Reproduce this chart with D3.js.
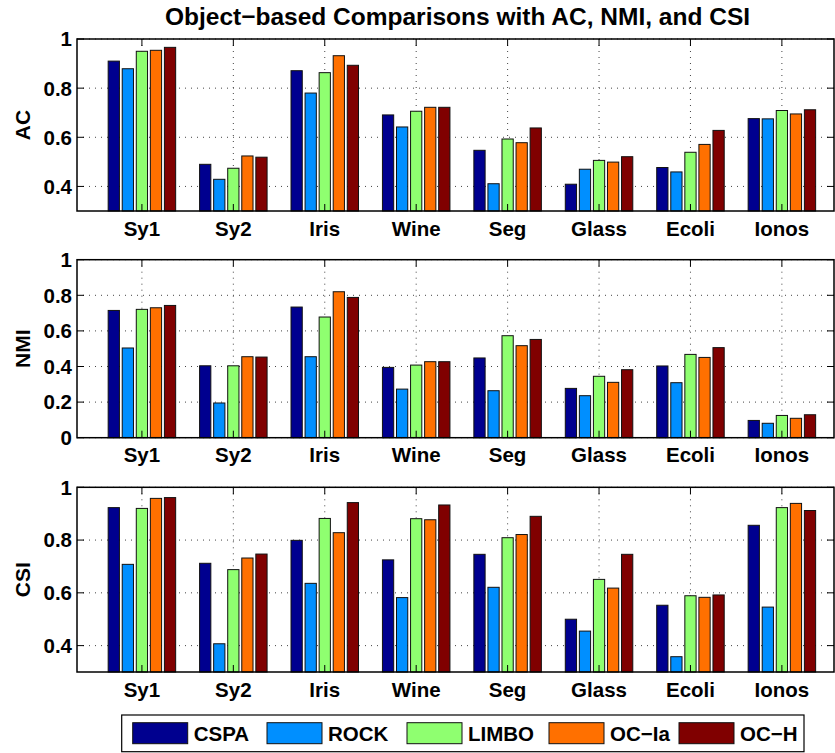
<!DOCTYPE html>
<html>
<head>
<meta charset="utf-8">
<script src="https://cdnjs.cloudflare.com/ajax/libs/d3/7.8.5/d3.min.js"></script>
<style>
	body { margin: 0; background: #fff; }
	svg { display: block; font-family: "Liberation Sans", Arial, Helvetica, sans-serif; font-weight: bold; }
</style>
</head>
<body>
<div id="chart"></div>
<script>
//Data
var categories = ["Sy1", "Sy2", "Iris", "Wine", "Seg", "Glass", "Ecoli", "Ionos"];
var methods = ["CSPA", "ROCK", "LIMBO", "OC\u2212Ia", "OC\u2212H"];
var methodColors = ["#00008f", "#008fff", "#8fff70", "#ff7000", "#800000"];

//One row per dataset, one value per method
var acValues = [
	[0.910, 0.879, 0.950, 0.954, 0.966],
	[0.490, 0.429, 0.474, 0.524, 0.519],
	[0.871, 0.780, 0.863, 0.932, 0.893],
	[0.691, 0.642, 0.706, 0.722, 0.722],
	[0.547, 0.411, 0.593, 0.578, 0.638],
	[0.409, 0.470, 0.506, 0.499, 0.521],
	[0.477, 0.459, 0.539, 0.571, 0.628],
	[0.676, 0.675, 0.709, 0.695, 0.712]
];
var nmiValues = [
	[0.715, 0.504, 0.721, 0.730, 0.743],
	[0.404, 0.195, 0.404, 0.455, 0.453],
	[0.734, 0.455, 0.678, 0.820, 0.788],
	[0.395, 0.273, 0.408, 0.427, 0.427],
	[0.448, 0.264, 0.573, 0.517, 0.552],
	[0.277, 0.236, 0.345, 0.311, 0.382],
	[0.403, 0.309, 0.468, 0.451, 0.506],
	[0.097, 0.081, 0.125, 0.109, 0.129]
];
var csiValues = [
	[0.923, 0.708, 0.920, 0.958, 0.961],
	[0.712, 0.407, 0.688, 0.732, 0.747],
	[0.799, 0.636, 0.882, 0.828, 0.942],
	[0.725, 0.582, 0.881, 0.877, 0.933],
	[0.746, 0.621, 0.809, 0.821, 0.890],
	[0.500, 0.455, 0.651, 0.618, 0.746],
	[0.553, 0.358, 0.589, 0.583, 0.592],
	[0.856, 0.546, 0.923, 0.939, 0.912]
];

var acTicks = [0.4, 0.6, 0.8, 1];
var nmiTicks = [0, 0.2, 0.4, 0.6, 0.8, 1];
var csiTicks = [0.4, 0.6, 0.8, 1];
var acDomain = [0.3, 1];
var nmiDomain = [0, 1];
var csiDomain = [0.3, 1];

var chartTitle = "Object\u2212based Comparisons with AC, NMI, and CSI";

//Size of the page
var width = 835, height = 753;
var left = 77, right = 834;

var svg = d3.select("#chart")
	.append("svg")
	.attr("width", width)
	.attr("height", height);

//Shared x scale, categories sit at 1..8 like matlab bar()
var x = d3.scaleLinear()
	.domain([0.29, 8.57])
	.range([left, right]);

//Position of each bar inside the group (in x units)
var groupWidth = 0.769;
var xSub = d3.scaleBand()
	.domain(methods)
	.range([-groupWidth / 2, groupWidth / 2])
	.paddingInner(0.2)
	.paddingOuter(0.1);

var fmt = function(d){ return (d === 0 || d === 1) ? String(d) : d3.format(".1f")(d); };

//Draws one of the three panels
function drawPanel(label, values, domain, ticks, top, bottom)
{
	var g = svg.append("g");

	var y = d3.scaleLinear()
		.domain(domain)
		.range([bottom, top]);

	//Dotted grid
	g.selectAll(".hgrid")
		.data(ticks)
		.enter()
		.append("line")
		.attr("x1", left)
		.attr("x2", right)
		.attr("y1", function(d){ return y(d) })
		.attr("y2", function(d){ return y(d) })
		.attr("stroke", "#444")
		.attr("stroke-width", 1)
		.attr("stroke-dasharray", "1,5");

	g.selectAll(".vgrid")
		.data(categories)
		.enter()
		.append("line")
		.attr("x1", function(d, i){ return x(i + 1) })
		.attr("x2", function(d, i){ return x(i + 1) })
		.attr("y1", top)
		.attr("y2", bottom)
		.attr("stroke", "#444")
		.attr("stroke-width", 1)
		.attr("stroke-dasharray", "1,5");

	//Bars
	var groups = g.selectAll(".group")
		.data(values)
		.enter()
		.append("g");

	groups.selectAll("rect")
		.data(function(d, i){ return d.map(function(v, j){ return {cat: i + 1, method: methods[j], value: v, color: methodColors[j]}; }); })
		.enter()
		.append("rect")
		.attr("x", function(d){ return x(d.cat + xSub(d.method)) })
		.attr("width", function(d){ return x(d.cat + xSub(d.method) + xSub.bandwidth()) - x(d.cat + xSub(d.method)) })
		.attr("y", function(d){ return y(d.value) })
		.attr("height", function(d){ return bottom - y(d.value) })
		.attr("fill", function(d){ return d.color })
		.attr("stroke", "#111")
		.attr("stroke-width", 1);

	//Tick marks inside the box
	var tickLen = 7;
	g.selectAll(".ytickL")
		.data(ticks)
		.enter()
		.append("path")
		.attr("d", function(d){ return "M" + left + "," + y(d) + "h" + tickLen + "M" + right + "," + y(d) + "h" + (-tickLen); })
		.attr("stroke", "#000");

	g.selectAll(".xtick")
		.data(categories)
		.enter()
		.append("path")
		.attr("d", function(d, i){ return "M" + x(i + 1) + "," + top + "v" + tickLen + "M" + x(i + 1) + "," + bottom + "v" + (-tickLen); })
		.attr("stroke", "#000");

	//Box around the axes
	g.append("rect")
		.attr("x", left)
		.attr("y", top)
		.attr("width", right - left)
		.attr("height", bottom - top)
		.attr("fill", "none")
		.attr("stroke", "#000")
		.attr("stroke-width", 1.5);

	//Tick labels
	g.selectAll(".ylab")
		.data(ticks)
		.enter()
		.append("text")
		.attr("x", left - 5)
		.attr("y", function(d){ return y(d) })
		.attr("dy", "0.36em")
		.style("text-anchor", "end")
		.style("font-size", "20.5px")
		.text(fmt);

	g.selectAll(".xlab")
		.data(categories)
		.enter()
		.append("text")
		.attr("x", function(d, i){ return x(i + 1) })
		.attr("y", bottom + 24.5)
		.style("text-anchor", "middle")
		.style("font-size", "20.5px")
		.text(function(d){ return d });

	//Axis label
	g.append("text")
		.attr("transform", "translate(30," + ((top + bottom) / 2) + ") rotate(-90)")
		.style("text-anchor", "middle")
		.style("font-size", "21px")
		.text(label);
}

drawPanel("AC", acValues, acDomain, acTicks, 39, 211);
drawPanel("NMI", nmiValues, nmiDomain, nmiTicks, 259.7, 437.7);
drawPanel("CSI", csiValues, csiDomain, csiTicks, 487.3, 672);

//Title
svg.append("text")
	.attr("x", (left + right) / 2 + 2)
	.attr("y", 25)
	.style("text-anchor", "middle")
	.style("font-size", "24.5px")
	.text(chartTitle);

//Legend
var legendX = 121.7, legendY = 715;
var legendSlots = [132.7, 267, 407, 549, 679];
var legend = svg.append("g");

legend.append("rect")
	.attr("x", legendX)
	.attr("y", legendY)
	.attr("width", 804 - legendX)
	.attr("height", 36.7)
	.attr("fill", "#fff")
	.attr("stroke", "#000")
	.attr("stroke-width", 1.2);

var items = legend.selectAll(".item")
	.data(methods)
	.enter()
	.append("g")
	.attr("transform", function(d, i){ return "translate(" + legendSlots[i] + "," + (legendY + 7.7) + ")" });

items.append("rect")
	.attr("width", 55)
	.attr("height", 21)
	.attr("fill", function(d, i){ return methodColors[i] })
	.attr("stroke", "#111");

items.append("text")
	.attr("x", 61)
	.attr("y", 18)
	.style("font-size", "20.5px")
	.text(function(d){ return d });
</script>
</body>
</html>
